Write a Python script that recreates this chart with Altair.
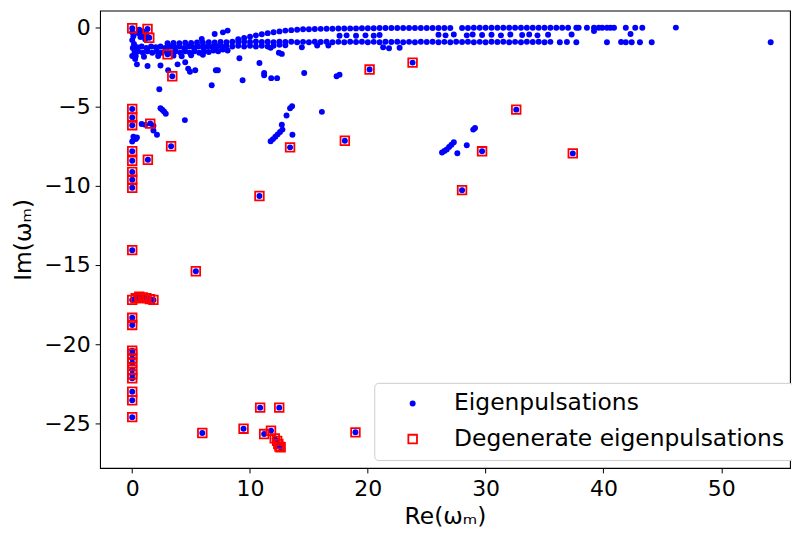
import altair as alt
import pandas as pd

# ---------------- data (Re, Im) ----------------
upper_row = [(9.0,-0.75),(9.5,-0.66),(10.0,-0.58),(10.5,-0.5),(11.0,-0.43),(11.5,-0.36),(12.0,-0.3),
    (12.5,-0.25),(13.0,-0.2),(13.5,-0.17),(14.0,-0.14),(14.5,-0.12),(15.0,-0.11),(15.5,-0.1),(16.0,-0.09),
    (16.5,-0.08),(17.0,-0.08),(17.5,-0.07),(18.0,-0.07),(18.5,-0.06),(19.0,-0.06),(19.5,-0.05),(20.0,-0.05),
    (20.5,-0.05),(21.0,-0.04),(21.5,-0.04),(22.0,-0.04),(22.5,-0.04),(23.0,-0.03),(23.5,-0.03),(24.0,-0.03),
    (24.5,-0.03),(25.0,-0.03),(25.5,-0.03),(26.0,-0.03),(26.5,-0.03),(27.0,-0.03),(28.0,-0.03),(28.5,-0.03),
    (29.0,-0.02),(29.5,-0.02),(30.0,-0.02),(30.5,-0.02),(31.0,-0.02),(31.5,-0.02),(32.0,-0.02),(32.5,-0.02),
    (33.0,-0.02),(33.5,-0.02),(34.0,-0.02),(34.5,-0.02),(35.0,-0.02),(35.5,-0.02),(36.0,-0.02),(36.5,-0.02),
    (37.0,-0.02),(37.7,-0.02),(37.9,-0.02),(38.6,-0.02),(39.2,-0.02),(39.6,-0.02),(39.9,-0.02),(40.3,-0.02),
    (40.6,-0.02),(40.9,-0.02),(41.9,-0.02),(42.7,-0.02),(43.3,-0.02),(46.15,-0.01)]

lower_row = [(3.0,-1.0),(3.5,-0.98),(4.0,-1.0),(4.5,-0.97),(5.0,-0.98),(5.5,-0.95),(6.0,-0.97),(6.5,-0.94),
    (7.0,-0.95),(7.5,-0.92),(8.0,-0.94),(8.5,-0.9),(9.0,-0.92),(9.5,-0.9),(10.0,-0.92),(10.5,-0.89),
    (11.0,-0.92),(11.5,-0.9),(12.0,-0.93),(12.5,-0.9),(13.0,-0.92),(13.5,-0.9),(14.0,-0.93),(14.5,-0.91),
    (15.0,-0.93),(15.5,-0.9),(16.0,-0.92),(16.5,-0.9),(17.0,-0.93),(17.5,-0.91),(18.0,-0.93),(18.5,-0.9),
    (19.0,-0.92),(19.5,-0.9),(20.0,-0.93),(20.5,-0.91),(21.0,-0.93),(21.5,-0.9),(22.0,-0.92),(22.5,-0.9),
    (23.0,-0.93),(23.5,-0.91),(24.0,-0.93),(24.5,-0.9),(25.0,-0.92),(25.5,-0.9),(26.0,-0.93),(26.5,-0.91),
    (27.0,-0.93),(27.5,-0.9),(28.0,-0.92),(28.5,-0.9),(29.0,-0.93),(29.5,-0.91),(30.0,-0.93),(30.5,-0.9),
    (31.0,-0.92),(31.5,-0.9),(32.0,-0.93),(32.5,-0.91),(33.0,-0.93),(33.5,-0.9),(34.0,-0.92),(34.5,-0.9),
    (35.0,-0.93),(35.5,-0.91),(36.3,-0.93),(36.9,-0.92),(37.7,-0.93),(40.3,-0.93),(41.5,-0.92),(41.9,-0.94),
    (42.4,-0.93),(43.1,-0.93),(44.1,-0.93),(54.2,-0.93)]

middle_row = [(17.6,-0.52),(18.2,-0.5),(19.0,-0.53),(19.8,-0.5),(20.5,-0.52),(21.0,-0.48),(26.0,-0.46),
    (26.6,-0.5),(27.3,-0.45),(28.4,-0.5),(28.9,-0.44),(29.7,-0.48),(30.5,-0.46),(31.3,-0.5),(32.1,-0.45),
    (33.1,-0.48),(33.7,-0.44),(34.4,-0.5),(35.3,-0.46),(37.3,-0.45),(39.2,-0.22),(42.3,-0.42)]

origin_band = [(0.0,-0.3),(0.1,-0.55),(0.0,-0.8),(0.15,-1.05),(0.05,-1.3),(0.2,-1.55),(0.0,-1.8),(0.25,-2.0),
    (0.5,-0.35),(0.7,-0.6),(0.9,-0.5),(1.1,-0.75),(0.6,-0.15),(0.9,-0.25),(1.2,-0.45),
    (0.5,-1.5),(0.9,-1.6),(1.3,-1.5),(1.7,-1.6),(2.1,-1.5),(2.5,-1.6),(2.9,-1.5),(3.3,-1.6),(3.7,-1.5),
    (4.1,-1.6),(4.5,-1.5),(4.9,-1.6),(5.3,-1.5),(5.7,-1.6),(6.1,-1.5),(6.5,-1.55),(6.9,-1.45),(7.3,-1.5),
    (7.7,-1.4),(8.1,-1.45),
    (0.4,-1.25),(0.8,-1.2),(1.2,-1.3),(1.6,-1.2),(2.0,-1.25),(2.4,-1.2),(2.8,-1.3),(3.2,-1.2),(3.6,-1.25),
    (4.0,-1.2),(4.4,-1.3),(4.8,-1.2),(5.2,-1.25),(5.6,-1.2),(6.0,-1.25),(6.4,-1.2),(6.8,-1.22),(7.2,-1.18),
    (7.6,-1.2),(8.0,-1.15),(8.5,-1.2),(9.0,-1.15),(9.5,-1.2),(10.0,-1.15),(10.5,-1.2),(11.0,-1.15),
    (11.5,-1.2),(12.0,-1.15),(12.5,-1.1),(13.0,-1.12),
    (0.3,-1.8),(1.0,-1.85),(2.2,-1.8),(3.5,-1.78),(4.2,-1.82),(5.0,-1.75),(6.0,-1.72)]

scattered = [(0.4,-2.33),(1.3,-2.44),(2.3,-3.9),(3.85,-2.33),(4.5,-2.2),(4.75,-2.6),(4.9,-2.8),(5.35,-2.7),
    (7.1,-2.7),(6.75,-3.65),(7.0,-0.42),(7.7,-0.31),(8.1,-0.2),(5.9,-0.73),(2.4,-2.4),(3.05,-2.7),
    (9.1,-1.94),(10.8,-2.25),(12.45,-1.6),(12.7,-1.67),(11.75,-1.29),(14.4,-1.25),(11.2,-2.88),(11.2,-3.02),
    (9.37,-3.33),(11.8,-3.2),(12.3,-3.2),(14.6,-2.88),(17.35,-3.08),(17.6,-2.98),(7.27,-2.7),(21.3,-1.25),
    (21.8,-1.31),(15.7,-1.14),(16.65,-1.14),(22.7,-1.28),
    (2.4,-5.1),(2.55,-5.2),(2.7,-5.3),(2.85,-5.45),(4.47,-5.85),(0.8,-6.1),(1.1,-6.15),(1.8,-6.2),
    (1.8,-6.5),(2.1,-6.77),(0.1,-6.9),(0.3,-7.05),(0.0,-7.2),(0.4,-6.95),
    (11.75,-7.19),(11.95,-7.05),(12.15,-6.9),(12.35,-6.75),(12.55,-6.6),(12.75,-6.45),(12.7,-6.14),
    (13.1,-5.56),(13.4,-5.1),(13.57,-4.98),(13.6,-6.77),(16.1,-5.33),
    (26.3,-7.9),(26.5,-7.8),(26.7,-7.7),(26.9,-7.55),(27.1,-7.4),(27.3,-7.25),(27.6,-7.94),(28.4,-7.44),
    (28.95,-6.45),(29.1,-6.35)]

degenerate = [(0.0,-0.05),(1.3,-0.1),(1.45,-0.65),(3.0,-1.7),(3.4,-3.08),(20.15,-2.66),(23.8,-2.22),
    (0.0,-5.15),(0.0,-5.69),(0.0,-6.17),(1.53,-6.07),(3.3,-7.5),(13.4,-7.57),(18.05,-7.15),(1.33,-8.35),
    (0.0,-7.81),(0.0,-8.42),(0.0,-9.12),(0.0,-9.62),(0.0,-10.12),
    (10.8,-10.64),(29.7,-7.82),(28.0,-10.27),(32.6,-5.19),(37.4,-7.95),
    (0.0,-14.06),(5.4,-15.39),
    (0.0,-17.2),(0.3,-17.1),(0.6,-17.0),(0.9,-17.05),(1.2,-17.1),(1.5,-17.15),(1.8,-17.2),
    (0.0,-18.33),(0.0,-18.78),
    (0.0,-20.4),(0.0,-20.6),(0.0,-20.9),(0.0,-21.2),(0.0,-21.6),(0.0,-21.9),(0.0,-22.15),
    (0.0,-23.0),(0.0,-23.54),(0.0,-24.6),
    (5.95,-25.6),(9.45,-25.33),(10.86,-24.0),(12.48,-24.0),(11.2,-25.67),(11.78,-25.46),
    (12.1,-25.94),(12.3,-26.1),(12.4,-26.3),(12.5,-26.46),(12.6,-26.5),
    (18.95,-25.56)]

series_names = ["Eigenpulsations", "Degenerate eigenpulsations"]
x_ticks = [0, 10, 20, 30, 40, 50]
y_ticks = [0, -5, -10, -15, -20, -25]

# ---------------- one table: blue points first, red squares after ----------------
blue_pts = upper_row + lower_row + middle_row + origin_band + scattered + degenerate
df_blue = pd.DataFrame(blue_pts, columns=["re", "im"])
df_blue["series"] = series_names[0]
df_red = pd.DataFrame(degenerate, columns=["re", "im"])
df_red["series"] = series_names[1]
df = pd.concat([df_blue, df_red], ignore_index=True)
df["order"] = range(len(df))

FONT = "DejaVu Sans"
xenc = alt.X("re:Q", scale=alt.Scale(domain=[-2.73, 55.84], nice=False, zero=False),
             axis=alt.Axis(values=x_ticks, title="Re(ωₘ)", titlePadding=5))
yenc = alt.Y("im:Q", scale=alt.Scale(domain=[-27.81, 1.06], nice=False, zero=False),
             axis=alt.Axis(values=y_ticks, title="Im(ωₘ)", titlePadding=8))


def leg():
    return alt.Legend(
        orient="none", legendX=277, legendY=376, title=None,
        labelFont=FONT, labelFontSize=23.6, labelColor="black", labelLimit=600,
        symbolOffset=18, labelOffset=30, padding=9, rowPadding=11,
        symbolStrokeWidth=1.8, symbolOpacity=1,
        strokeColor="#cccccc", fillColor="white", cornerRadius=4,
    )


chart = alt.Chart(df).mark_point(strokeWidth=1.8, opacity=1).encode(
    x=xenc, y=yenc,
    fill=alt.Fill("series:N", scale=alt.Scale(domain=series_names, range=["#0000ff", "transparent"]),
                  legend=leg()),
    stroke=alt.Stroke("series:N", scale=alt.Scale(domain=series_names, range=["transparent", "#ff0000"]),
                      legend=leg()),
    shape=alt.Shape("series:N", scale=alt.Scale(domain=series_names, range=["circle", "square"]),
                    legend=leg()),
    size=alt.Size("series:N", scale=alt.Scale(domain=series_names, range=[36, 76]), legend=leg()),
    order=alt.Order("order:Q"),
).properties(
    width=697, height=462, autosize="none",
    padding={"left": 93, "top": 0, "right": 2, "bottom": 62},
).configure_view(stroke="black", strokeWidth=1.1).configure_axis(
    labelFont=FONT, titleFont=FONT, labelFontSize=22.2, titleFontSize=23.6, titleFontWeight="normal",
    labelColor="black", titleColor="black", tickColor="black", tickSize=5, tickWidth=1,
    labelPadding=5, grid=False, domain=False,
)

chart.save("out.html", embed_options={"renderer": "svg", "actions": False})
